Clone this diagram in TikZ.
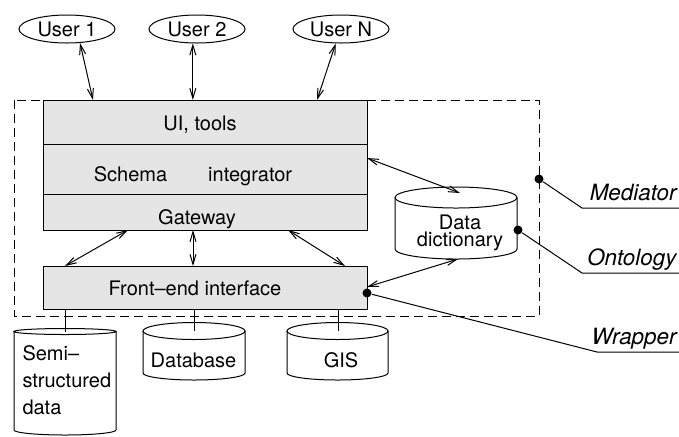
\documentclass[tikz,border=0pt]{standalone}
\usepackage{fontspec}
\setmainfont{TeX Gyre Heros}
\usetikzlibrary{arrows.meta,positioning,calc,shapes.geometric}
\definecolor{boxgray}{gray}{0.9}
\tikzset{
  layer/.style={draw, fill=boxgray, minimum width=162pt, inner sep=0pt, outer sep=0pt},
  user/.style={draw, ellipse, minimum width=48pt, minimum height=14pt, inner sep=1pt},
  link/.style={{Straight Barb[length=5pt,width=3pt]}-{Straight Barb[length=5pt,width=3pt]}},
  tag/.style={font=\fontsize{11.2}{13}\selectfont\itshape, anchor=south east, inner xsep=1pt, inner ysep=3.5pt, text depth=0pt},
  dot/.style={fill, circle, inner sep=0pt, minimum size=4.5pt}
}

\begin{document}
\begin{tikzpicture}[x=0.5pt, y=-0.5pt, line width=0.5pt, font=\fontsize{10}{12}\selectfont]
\useasboundingbox (0,0) rectangle (679,436);
% users
\node[user] (u1) at (67,29) {User 1};
\node[user] (u2) at (197,29) {User 2};
\node[user] (uN) at (341,29) {User N};
% mediator frame and layers
\draw[dash pattern=on 4.5pt off 2.5pt] (14,100) rectangle (539,316);
\node[layer, minimum height=22pt, anchor=north west] (ui) at (43,100) {};
\node[layer, minimum height=25pt, below=0pt of ui] (schema) {};
\node[layer, minimum height=18pt, below=0pt of schema] (gw) {};
\node[layer, minimum height=21.5pt, anchor=north west] (fe) at (43,266) {};
\node[anchor=base] (uit) at (200,130) {UI, tools};
\node[anchor=base] (sit) at (193,181) {Schema\hspace{20.5pt}integrator};
\node[anchor=base] (gwt) at (197,224) {Gateway};
\node[anchor=base] (fet) at (195,295.5) {Front--end interface};
\draw[link] (u1.-47) -- ($(ui.north west)+(50,0)$);
\draw[link] (u2.-106) -- (u2.-106 |- ui.north);
\draw[link] (uN.-110) -- ($(ui.north west)+(274,0)$);
\draw[link] ($(gw.south west)+(85,0)$) -- ($(fe.north west)+(22,0)$);
\draw[link] ($(gw.south west)+(150,0)$) -- ($(fe.north west)+(150,0)$);
\draw[link] ($(gw.south west)+(245,0)$) -- ($(fe.north west)+(302,0)$);
% data dictionary
\draw (456,197.5) ellipse [x radius=61, y radius=10.5];
\draw (395,197.5) -- (395,249) arc[start angle=180, end angle=0, x radius=61, y radius=10] -- (517,197.5);
\node[anchor=north, inner sep=0pt, align=center, font=\fontsize{10}{8.5}\selectfont] (dd) at (460,214) {Data\\dictionary};
\coordinate (ddtop) at (460,193);
\coordinate (ddbot) at (458,259);
\draw[link] ($(schema.north east)+(0,14)$) -- (ddtop);
\draw[link] ($(fe.north east)+(0,21)$) -- (ddbot);
% sources
\draw (65,331.5) ellipse [x radius=51, y radius=3];
\draw (14,331.5) -- (14,430) arc[start angle=180, end angle=0, x radius=51, y radius=5] -- (116,331.5);
\coordinate (semitop) at (65,331.5);
\node[anchor=north west, inner sep=0pt, align=left, font=\fontsize{10}{13.5}\selectfont] (semi) at (22,345) {Semi--\\structured\\data};
\draw (194,331) ellipse [x radius=51, y radius=8.5];
\draw (143,331) -- (143,373) arc[start angle=180, end angle=0, x radius=51, y radius=7] -- (245,331);
\coordinate (dbtop) at (194,331);
\node[anchor=base] (dbt) at (193.5,367) {Database};
\draw (337.5,331) ellipse [x radius=50.5, y radius=8.5];
\draw (287,331) -- (287,373) arc[start angle=180, end angle=0, x radius=50.5, y radius=7] -- (388,331);
\coordinate (gistop) at (338,331);
\node[anchor=base] (gist) at (341,367) {GIS};
\draw (semitop |- fe.south) -- (semitop);
\draw (dbtop |- fe.south) -- (dbtop);
\draw (gistop |- fe.south) -- (gistop);
% tags
\node[dot] (medd) at (539,179) {};
\coordinate (medk) at (582,208);
\coordinate (mede) at (679,208);
\node[tag] (med) at (mede) {Mediator};
\draw (medd) -- (medk) -- (mede);
\node[dot] (ontd) at (518,230) {};
\coordinate (ontk) at (582,273);
\coordinate (onte) at (679,273);
\node[tag] (ont) at (onte) {Ontology};
\draw (ontd) -- (ontk) -- (onte);
\node[dot] (wrd) at (367,293) {};
\coordinate (wrk) at (597,352);
\coordinate (wre) at (679,352);
\node[tag] (wr) at (wre) {Wrapper};
\draw (wrd) -- (wrk) -- (wre);
\end{tikzpicture}
\end{document}
